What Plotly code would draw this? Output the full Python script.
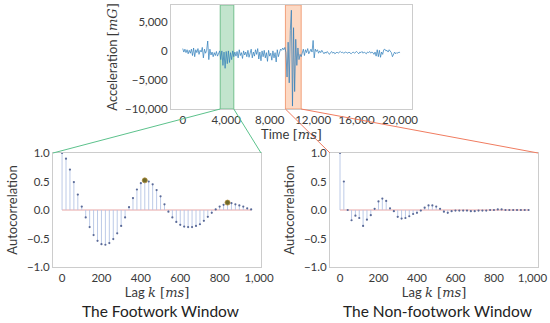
import plotly.graph_objects as go

W, H = 550, 323

# ---------------- data ----------------
accel_step_ms = 100
acceleration = [
    # 0 - 2500
    400, -200, 300, -300, 200, -500, 100, -400, 300, -800,
    500, -1000, 200, -300, 400, -600, 100, -200, 600, -1200,
    300, -400, 100, 1700, -1500, 300,
    # 2600 - 3400
    -700, -200, -1000, -300, -800, -100, -900, -400, 0,
    # 3500 - 4700 (footwork window)
    -1500, 0, -2500, -200, -3000, -100, -2200, 0, -2000, -300, -1500, 0, -1000,
    # 4800 - 9300
    -200, -900, -100, -1200, 200, -800, -300, -1300, 0, -700,
    -200, -1000, 100, -1100, -300, 300, -1200, -200, -900, 200,
    -600, 400, -1400, -200, -1700, 0, -1000, 100, -1200, -300,
    -1800, 100, -900, -400, -1600, 0, -1200, -300, -1900, 200,
    -1000, -200, 300, 100, 500, 200,
    # 9400 - 10800 (non-footwork window)
    600, -300, -4500, 1500, -5500, 3500, 7000, -9500, 4000, -7000,
    2000, -2500, 500, -1500, -600,
    # 10900 - 12500
    -1000, -400, 300, -800, 200, -300, 400, -500, 0, 300,
    -200, 1800, -1200, 300, -100, 200, -400,
    # 12600 - 20000
    0, -300, 100, -200, -500, -200, -400, -100, -300, -600,
    -300, -100, -400, -200, -500, -300, -200, -400, -300, -100,
    -300, -200, -400, -300, -200, -300, -400, -200, -300, -500,
    -300, -200, -400, -300, -100, -300, -500, -200, -300, -100,
    -400, -200, -300, -500, -200, -300, -100, -400, -200, -300,
    -600, -200, -900, 200, -1000, 100, -1100, -200, -600, 200,
    300, 0, 100, -200, 200, -100, -300, -1000, -700, -200,
    -500, -300, -400, -200, -300,
]
time_ms = [i * accel_step_ms for i in range(len(acceleration))]

footwork_band = [3450, 4700]
nonfootwork_band = [9450, 10900]

lag_step_ms = 20
acf_footwork = [
    1.00, 0.90, 0.71, 0.49, 0.27, 0.06, -0.13, -0.30, -0.44, -0.54,
    -0.60, -0.61, -0.58, -0.51, -0.41, -0.28, -0.13, 0.05, 0.21, 0.36,
    0.47, 0.52, 0.50, 0.45, 0.35, 0.24, 0.10, -0.03, -0.13, -0.21,
    -0.26, -0.29, -0.30, -0.30, -0.28, -0.25, -0.19, -0.12, -0.05, 0.01,
    0.06, 0.09, 0.13, 0.12, 0.10, 0.08, 0.06, 0.03, 0.01,
]
footwork_peaks_ms = [420, 840]

acf_nonfootwork = [
    1.00, 0.50, 0.00, -0.18, -0.10, -0.14, -0.28, -0.17, -0.09, 0.02,
    0.15, 0.20, 0.16, 0.03, -0.02, -0.12, -0.15, -0.14, -0.11, -0.07,
    -0.05, -0.01, 0.04, 0.08, 0.08, 0.06, 0.02, -0.03, -0.05, -0.02,
    -0.01, -0.01, -0.01, -0.01, -0.02, -0.02, -0.01, -0.01, -0.01, 0.00,
    0.00, 0.01, 0.01, 0.00, 0.00, 0.00, 0.00, 0.00, 0.00, 0.00,
]

top_xticks = [0, 4000, 8000, 12000, 16000, 20000]
top_yticks = [-10000, -5000, 0, 5000]
lag_xticks = [0, 200, 400, 600, 800, 1000]
acf_yticks = [-1.0, -0.5, 0.0, 0.5, 1.0]

titles = ["The Footwork Window", "The Non-footwork Window"]

# ---------------- layout geometry (page pixels) ----------------
TOP = dict(x0=171, x1=412, y0=5, y1=109, xr=[-1080, 21100], yr=[-10000, 7900])
LEFT = dict(x0=53, x1=261, y0=153, y1=267, xr=[-46, 1010])
RIGHT = dict(x0=330, x1=538, y0=153, y1=267, xr=[-52, 1029])


def px2x(p):
    return p / W


def py2y(p):
    return 1 - p / H


def xdom(p):
    return [px2x(p["x0"]), px2x(p["x1"])]


def ydom(p):
    return [py2y(p["y1"]), py2y(p["y0"])]


FONT = "Lato"
SERIF = "DejaVu Serif"
TICKC = "#3a3a3a"
FRAME = "#cccccc"

fig = go.Figure()

# top signal
fig.add_trace(go.Scatter(x=time_ms, y=acceleration, mode="lines",
                         line=dict(color="#2b7bb9", width=0.7),
                         xaxis="x", yaxis="y", showlegend=False))


def add_stem(lags, vals, xa, ya):
    sx, sy = [], []
    for k, v in zip(lags, vals):
        sx += [k, k, None]
        sy += [0, v, None]
    fig.add_trace(go.Scatter(x=[lags[0], lags[-1]], y=[0, 0], mode="lines",
                             line=dict(color="#e8a4a4", width=1),
                             xaxis=xa, yaxis=ya, showlegend=False))
    fig.add_trace(go.Scatter(x=sx, y=sy, mode="lines",
                             line=dict(color="#b4c4e4", width=0.9),
                             xaxis=xa, yaxis=ya, showlegend=False))
    fig.add_trace(go.Scatter(x=lags, y=vals, mode="markers",
                             marker=dict(color="#5a6a98", size=2.2),
                             xaxis=xa, yaxis=ya, showlegend=False))


lags_fw = [i * lag_step_ms for i in range(len(acf_footwork))]
lags_nf = [i * lag_step_ms for i in range(len(acf_nonfootwork))]
add_stem(lags_fw, acf_footwork, "x2", "y2")
add_stem(lags_nf, acf_nonfootwork, "x3", "y3")

peak_vals = [acf_footwork[lags_fw.index(p)] for p in footwork_peaks_ms]
fig.add_trace(go.Scatter(x=footwork_peaks_ms, y=peak_vals, mode="markers",
                         marker=dict(color="#6e6a2a", size=5,
                                     line=dict(color="#b08a3a", width=0.8)),
                         xaxis="x2", yaxis="y2", showlegend=False))

axis_common = dict(showgrid=False, zeroline=False, showline=True, mirror=True,
                   linecolor=FRAME, linewidth=1, ticks="", automargin=False,
                   tickfont=dict(family=FONT, size=11.5, color=TICKC))

TITLE_SIZE = 13

fig.update_layout(
    width=W, height=H, margin=dict(l=0, r=0, t=0, b=0),
    paper_bgcolor="white", plot_bgcolor="white",
    font=dict(family=FONT, color=TICKC),
    xaxis=dict(domain=xdom(TOP), range=TOP["xr"], anchor="y",
               tickvals=top_xticks, tickformat=",d",
               title=dict(text="Time <span style='font-family:%s'>[<i>ms</i>]</span>" % SERIF,
                          font=dict(size=TITLE_SIZE, color=TICKC), standoff=0),
               **axis_common),
    yaxis=dict(domain=ydom(TOP), range=TOP["yr"], anchor="x",
               tickvals=top_yticks, tickformat=",d",
               title=dict(text="Acceleration <span style='font-family:%s'>[<i>mG</i>]</span>" % SERIF,
                          font=dict(size=TITLE_SIZE, color=TICKC), standoff=4),
               **axis_common),
    xaxis2=dict(domain=xdom(LEFT), range=LEFT["xr"], anchor="y2",
                tickvals=lag_xticks, tickformat=",d",
                title=dict(text="Lag <span style='font-family:%s'><i>k</i> [<i>ms</i>]</span>" % SERIF,
                           font=dict(size=TITLE_SIZE, color=TICKC), standoff=2),
                **axis_common),
    yaxis2=dict(domain=ydom(LEFT), range=[-1, 1], anchor="x2",
                tickvals=acf_yticks, tickformat=".1f",
                title=dict(text="Autocorrelation", font=dict(size=TITLE_SIZE, color=TICKC), standoff=6),
                **axis_common),
    xaxis3=dict(domain=xdom(RIGHT), range=RIGHT["xr"], anchor="y3",
                tickvals=lag_xticks, tickformat=",d",
                title=dict(text="Lag <span style='font-family:%s'><i>k</i> [<i>ms</i>]</span>" % SERIF,
                           font=dict(size=TITLE_SIZE, color=TICKC), standoff=2),
                **axis_common),
    yaxis3=dict(domain=ydom(RIGHT), range=[-1, 1], anchor="x3",
                tickvals=acf_yticks, tickformat=".1f",
                title=dict(text="Autocorrelation", font=dict(size=TITLE_SIZE, color=TICKC), standoff=6),
                **axis_common),
)


def top_x_to_paper(v):
    d0, d1 = xdom(TOP)
    r0, r1 = TOP["xr"]
    return d0 + (v - r0) / (r1 - r0) * (d1 - d0)


top_bottom_y = ydom(TOP)[0]
panel_top_y = ydom(LEFT)[1]

# highlighted windows
for band, fill, edge in [(footwork_band, "rgba(120,195,145,0.45)", "#72bf8e"),
                         (nonfootwork_band, "rgba(248,170,125,0.45)", "#f2a07a")]:
    fig.add_shape(type="rect", xref="x", yref="y", x0=band[0], x1=band[1],
                  y0=TOP["yr"][0], y1=TOP["yr"][1], fillcolor=fill,
                  line=dict(color=edge, width=1), layer="below")

# connector lines
for band, panel, col in [(footwork_band, LEFT, "#5cc28c"),
                         (nonfootwork_band, RIGHT, "#f07c60")]:
    px = xdom(panel)
    fig.add_shape(type="line", xref="paper", yref="paper",
                  x0=top_x_to_paper(band[0]), y0=top_bottom_y, x1=px[0], y1=panel_top_y,
                  line=dict(color=col, width=1))
    fig.add_shape(type="line", xref="paper", yref="paper",
                  x0=top_x_to_paper(band[1]), y0=top_bottom_y, x1=px[1], y1=panel_top_y,
                  line=dict(color=col, width=1))

# panel captions
caption_centers = [160, 437]
for txt, cx in zip(titles, caption_centers):
    fig.add_annotation(text=txt, xref="paper", yref="paper", x=px2x(cx),
                       y=py2y(311), showarrow=False,
                       font=dict(family=FONT, size=15.5, color="#222222"),
                       xanchor="center", yanchor="middle")

fig.write_html("out.html", config={"displayModeBar": False},
               post_script="document.body.style.margin='0';document.body.style.overflow='hidden';")
